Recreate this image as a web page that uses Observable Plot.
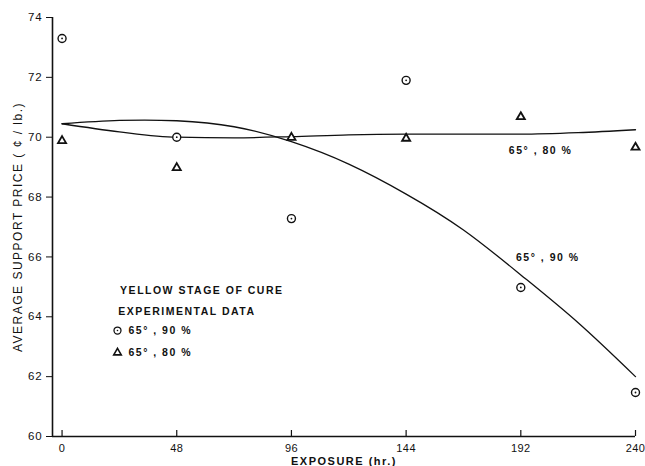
<!DOCTYPE html>
<html><head><meta charset="utf-8">
<script src="https://cdn.jsdelivr.net/npm/d3@7"></script>
<script src="https://cdn.jsdelivr.net/npm/@observablehq/plot@0.6"></script>
<style>
body{margin:0;background:#fff}
#chart svg{font-family:"Liberation Sans",Arial,sans-serif;}
#chart svg text{letter-spacing:1.5px;}
#chart svg [aria-label="x-axis tick label"] text{letter-spacing:0.4px;font-size:11px;}
#chart svg [aria-label="y-axis tick label"] text{letter-spacing:0.8px;}
</style>
</head><body><div id="chart"></div>
<script>
// Observed data
const hours = [0, 48, 96, 144, 192, 240];
const obs90 = [73.3, 70.0, 67.28, 71.9, 64.98, 61.47];   // circles, 65°, 90%
const obs80 = [69.88, 68.98, 69.99, 69.96, 70.68, 69.66]; // triangles, 65°, 80%

// Fitted curves
const fitHours = [0, 24, 48, 72, 96, 120, 144, 168, 192, 216, 240];
const fit90 = [70.45, 70.56, 70.55, 70.35, 69.85, 69.1, 68.1, 66.9, 65.4, 63.8, 62.0];
const fit80 = [70.45, 70.18, 70.0, 69.98, 70.02, 70.08, 70.1, 70.1, 70.1, 70.15, 70.25];

const xTicks = [0, 48, 96, 144, 192, 240];
const yTicks = [60, 62, 64, 66, 68, 70, 72, 74];

const curveLabels = ["65° , 80 %", "65° , 90 %"];
const legendTitle = ["YELLOW STAGE OF CURE", "EXPERIMENTAL DATA"];
const legendItems = ["65° , 90 %", "65° , 80 %"];

const pts90 = hours.map((h, i) => ({h, v: obs90[i]}));
const pts80 = hours.map((h, i) => ({h, v: obs80[i]}));
const f90 = fitHours.map((h, i) => ({h, v: fit90[i]}));
const f80 = fitHours.map((h, i) => ({h, v: fit80[i]}));

const textStyle = {fontSize: 10.5, fill: "#111", fontWeight: "bold"};

const chart = Plot.plot({
  width: 645,
  height: 466,
  marginLeft: 52,
  marginRight: 10,
  marginTop: 17,
  marginBottom: 30,
  style: {fontSize: "11.5px", color: "#111", background: "white"},
  x: {domain: [-4, 240], ticks: xTicks, tickSize: 0, tickPadding: 8, label: null},
  y: {domain: [60, 74], ticks: yTicks, tickSize: 6, tickPadding: 4, label: null},
  marks: [
    Plot.ruleX([-4], {stroke: "#111", strokeWidth: 1.6}),
    Plot.ruleY([60], {stroke: "#111", strokeWidth: 1.6}),
    Plot.ruleX(xTicks, {y1: 60, y2: 60.2, stroke: "#111", strokeWidth: 1.2}),
    Plot.line(f90, {x: "h", y: "v", curve: "natural", stroke: "#111", strokeWidth: 1.3}),
    Plot.line(f80, {x: "h", y: "v", curve: "monotone-x", stroke: "#111", strokeWidth: 1.3}),
    Plot.dot(pts90, {x: "h", y: "v", r: 4, stroke: "#111", strokeWidth: 1.4, fill: "white"}),
    Plot.dot(pts90, {x: "h", y: "v", r: 0.9, fill: "#111"}),
    Plot.dot(pts80, {x: "h", y: "v", symbol: "triangle", r: 3, stroke: "#111", strokeWidth: 1.8, fill: "white"}),
    Plot.text([curveLabels[0]], {x: 187, y: 69.56, textAnchor: "start", ...textStyle}),
    Plot.text([curveLabels[1]], {x: 190, y: 65.98, textAnchor: "start", ...textStyle}),
    Plot.text([legendTitle[0]], {x: 24.3, y: 64.88, textAnchor: "start", ...textStyle}),
    Plot.text([legendTitle[1]], {x: 23.5, y: 64.18, textAnchor: "start", ...textStyle}),
    Plot.dot([0], {x: 23.2, y: 63.54, r: 3.5, stroke: "#111", strokeWidth: 1.3}),
    Plot.dot([0], {x: 23.2, y: 63.54, r: 0.8, fill: "#111"}),
    Plot.text([legendItems[0]], {x: 27.8, y: 63.54, textAnchor: "start", ...textStyle}),
    Plot.dot([0], {x: 23.2, y: 62.8, symbol: "triangle", r: 2.8, stroke: "#111", strokeWidth: 1.6}),
    Plot.text([legendItems[1]], {x: 27.8, y: 62.8, textAnchor: "start", ...textStyle}),
    Plot.text(["EXPOSURE (hr.)"], {frameAnchor: "bottom", dy: 28, ...textStyle, fontSize: 11}),
    Plot.text(["AVERAGE SUPPORT PRICE ( ¢ / lb.)"], {frameAnchor: "left", textAnchor: "middle", dx: -34, rotate: -90, fill: "#111", fontSize: 12})
  ]
});
document.getElementById("chart").appendChild(chart);
</script>
</body></html>
